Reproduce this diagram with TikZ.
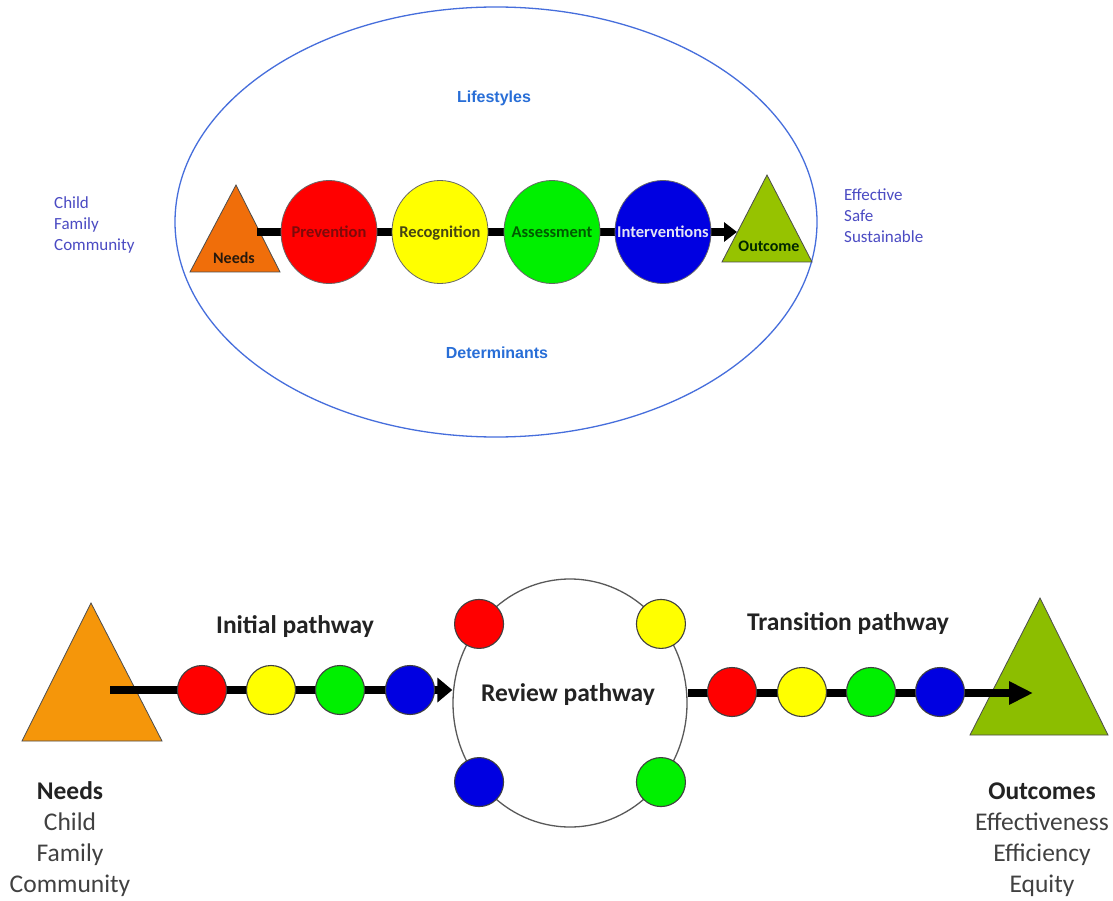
\documentclass[tikz,border=0pt]{standalone}
\usepackage{fontspec}
\setmainfont{Carlito}
\newfontfamily\headfont{Liberation Sans}
\usetikzlibrary{shapes,arrows.meta,positioning,calc}
\definecolor{ringblue}{RGB}{70,110,220}
\definecolor{labelblue}{RGB}{40,110,215}
\definecolor{listblue}{RGB}{75,75,195}
\definecolor{needsorange}{RGB}{240,110,10}
\definecolor{needsamber}{RGB}{245,150,10}
\definecolor{outgreen}{RGB}{150,195,0}
\definecolor{outlime}{RGB}{140,190,0}
\definecolor{stagered}{RGB}{255,0,0}
\definecolor{stageyellow}{RGB}{255,255,0}
\definecolor{stagegreen}{RGB}{0,240,0}
\definecolor{stageblue}{RGB}{0,0,225}
\definecolor{prevred}{RGB}{125,10,10}
\definecolor{recolive}{RGB}{70,70,20}
\definecolor{assgreen}{RGB}{0,90,0}
\definecolor{intwhite}{RGB}{228,228,245}
\definecolor{textgrey}{RGB}{35,35,35}
\definecolor{bodygrey}{RGB}{65,65,65}

\begin{document}
\begin{tikzpicture}[x=1pt,y=-1pt,
    stage/.style={ellipse,draw=black!60,line width=0.8pt,minimum width=96pt,minimum height=103pt,inner sep=0pt},
    stagetext/.style={font=\fontsize{16.5}{19}\selectfont\bfseries,text height=10.5pt,text depth=0pt,inner sep=0pt},
    dot/.style={circle,draw=black!75,line width=1.1pt,minimum size=49pt,inner sep=0pt},
    tri/.style={draw=black!70,line width=0.8pt},
    flow/.style={line width=8pt},
    sidetext/.style={font=\fontsize{17}{21}\selectfont,text=listblue,inner sep=0pt},
    ringtext/.style={font=\headfont\fontsize{16}{19}\selectfont\bfseries,text=labelblue,inner sep=0pt},
    pathtext/.style={font=\fontsize{25.5}{30}\selectfont\bfseries,text=textgrey,inner sep=0pt},
    endtext/.style={font=\fontsize{25.5}{30}\selectfont,text=bodygrey,inner sep=0pt}]
    \path[use as bounding box,fill=white] (0,0) rectangle (1113,901);

    % Upper picture: the pathway inside the ring
    \node[ellipse,draw=ringblue,line width=1.3pt,minimum width=642pt,minimum height=430pt,inner sep=0pt] (ring) at (496,222) {};
    \node[ringtext,anchor=base] (life) at (494,103) {Lifestyles};
    \node[ringtext,anchor=base] (det) at (497,358) {Determinants};

    \draw[tri,fill=needsorange] (190,272) -- (280,272) -- (236,185) -- cycle;
    \draw[tri,fill=outgreen] (722,262) -- (812,262) -- (767,175) -- cycle;

    \coordinate (flowA) at (257,232);
    \coordinate (flowB) at (737,232);
    \draw[flow,-{Triangle[length=13pt,width=19pt]}] (flowA) -- (flowB);

    \node[font=\fontsize{16}{18}\selectfont\bfseries,text=black!80!brown,anchor=base,inner sep=0pt] (needs) at (234,263) {Needs};
    \node[font=\fontsize{16}{18}\selectfont\bfseries,text=black!85!green,anchor=base,inner sep=0pt] (outc) at (769,252) {Outcome};

    \node[stage,fill=stagered,label={[stagetext,text=prevred]center:Prevention}] (prev) at (329,232) {};
    \node[stage,fill=stageyellow,label={[stagetext,text=recolive]center:Recognition}] (reco) at (440,232) {};
    \node[stage,fill=stagegreen,label={[stagetext,text=assgreen]center:Assessment}] (asse) at (552,232) {};
    \node[stage,fill=stageblue,label={[stagetext,text=intwhite]center:Interventions}] (inte) at (663,232) {};

    \foreach \t [count=\i] in {Child,Family,Community}
        \node[sidetext,anchor=base west] (who\i) at (54,188+21*\i) {\t};
    \foreach \t [count=\i] in {Effective,Safe,Sustainable}
        \node[sidetext,anchor=base west] (aim\i) at (844,180+21*\i) {\t};

    % Lower picture: initial, review and transition pathways
    \draw[tri,fill=needsamber] (22,741) -- (162,741) -- (91,603) -- cycle;
    \draw[tri,fill=outlime] (970,735) -- (1108,735) -- (1040,598) -- cycle;
    \node[ellipse,draw=black!65,line width=1.3pt,minimum width=234pt,minimum height=248pt,inner sep=0pt] (review) at (570,703) {};
    \node[pathtext,anchor=base] (revlbl) at (568,701) {Review pathway};
    \node[pathtext,anchor=base] (inilbl) at (295,633) {Initial pathway};
    \node[pathtext,anchor=base] (tralbl) at (848,630) {Transition pathway};

    \coordinate (iniA) at (110,690);
    \draw[flow,-{Triangle[length=15pt,width=24pt]}] (iniA) -- (iniA -| review.west);
    \coordinate (traB) at (1033,693);
    \draw[flow,-{Triangle[length=24pt,width=22pt]}] (review.east |- traB) -- (traB);

    \foreach \c/\x [count=\i] in {stagered/202,stageyellow/271,stagegreen/340,stageblue/410}
        \node[dot,fill=\c] (ini\i) at (\x,690) {};
    \foreach \c/\x [count=\i] in {stagered/732,stageyellow/802,stagegreen/871,stageblue/940}
        \node[dot,fill=\c] (tra\i) at (\x,692) {};
    \foreach \c/\a [count=\i] in {stagered/139,stageyellow/41,stagegreen/319,stageblue/221}
        \node[dot,fill=\c] (rev\i) at (review.\a) {};

    \node[pathtext,anchor=base] (ndhead) at (70,799) {Needs};
    \foreach \t [count=\i] in {Child,Family,Community}
        \node[endtext,anchor=base] (nd\i) at (70,799+31*\i) {\t};
    \node[pathtext,anchor=base] (ochead) at (1042,799) {Outcomes};
    \foreach \t [count=\i] in {Effectiveness,Efficiency,Equity}
        \node[endtext,anchor=base] (oc\i) at (1042,799+31*\i) {\t};
\end{tikzpicture}
\end{document}
